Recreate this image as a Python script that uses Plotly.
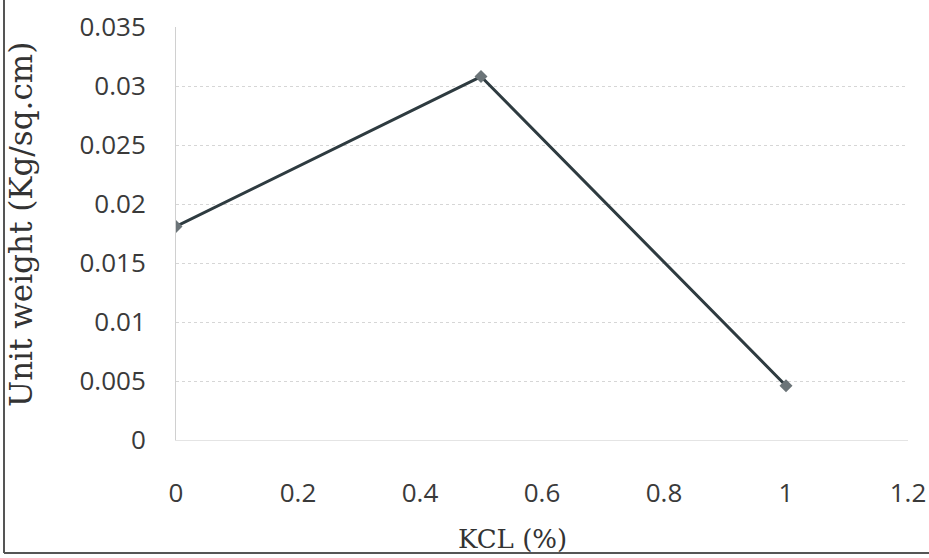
import plotly.graph_objects as go

kcl = [0, 0.5, 1]
unit_weight = [0.0181, 0.0308, 0.0046]
x_ticks = [0, 0.2, 0.4, 0.6, 0.8, 1, 1.2]
x_tick_text = ["0", "0.2", "0.4", "0.6", "0.8", "1", "1.2"]
y_ticks = [0, 0.005, 0.01, 0.015, 0.02, 0.025, 0.03, 0.035]
y_tick_text = ["0", "0.005", "0.01", "0.015", "0.02", "0.025", "0.03", "0.035"]

L, R, T, B = 176, 21, 27, 118
W, H = 929, 558
pw, ph = W - L - R, H - T - B


def px(xp):
    return (xp - L) / pw


def py(yp):
    return (H - B - yp) / ph


fig = go.Figure()
fig.add_trace(go.Scatter(
    x=kcl, y=unit_weight, mode="lines+markers",
    line=dict(color="#2e3b40", width=3),
    marker=dict(symbol="diamond", size=10, color="#6b7478"),
    showlegend=False,
))

grid = "#d6d6d6"
tickfont = dict(size=26, family="Open Sans", color="#3a3a3a")
fig.update_layout(
    width=W, height=H,
    margin=dict(l=L, r=R, t=T, b=B, autoexpand=False),
    paper_bgcolor="white", plot_bgcolor="white",
    font=dict(family="Open Sans", color="#3a3a3a"),
    xaxis=dict(
        range=[0, 1.2], tickvals=x_ticks, ticktext=x_tick_text,
        showgrid=False, zeroline=False, automargin=False,
        showline=True, linecolor="#e4e4e4", linewidth=1,
        ticks="", tickfont=tickfont,
        ticklabelstandoff=30,
    ),
    yaxis=dict(
        range=[0, 0.035], tickvals=y_ticks, ticktext=y_tick_text,
        showgrid=True, gridcolor=grid, griddash="dot", gridwidth=1,
        zeroline=False, showline=True, linecolor="#d0d0d0", linewidth=1,
        ticks="", tickfont=tickfont, automargin=False,
        ticklabelstandoff=24,
    ),
)

fig.add_annotation(text="KCL (%)", xref="paper", yref="paper",
                   x=px(512), y=py(539), showarrow=False,
                   xanchor="center", yanchor="middle",
                   font=dict(size=26, family="DejaVu Serif", color="#333"))
fig.add_annotation(text="Unit weight (Kg/sq.cm)", xref="paper", yref="paper",
                   x=px(21), y=py(225), showarrow=False, textangle=-90,
                   xanchor="center", yanchor="middle",
                   font=dict(size=31, family="DejaVu Serif", color="#333"))

# scanned page border (left and bottom edges)
fig.add_shape(type="line", xref="paper", yref="paper",
              x0=px(4), x1=px(4), y0=py(553), y1=py(0),
              line=dict(color="#555", width=2))
fig.add_shape(type="line", xref="paper", yref="paper",
              x0=px(4), x1=px(W), y0=py(553), y1=py(553),
              line=dict(color="#555", width=2))

fig.write_html("out.html")
